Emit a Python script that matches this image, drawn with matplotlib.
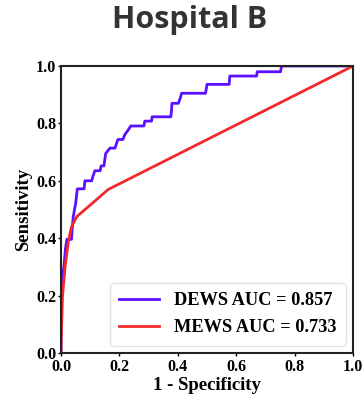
import matplotlib
matplotlib.use("Agg")
import matplotlib.pyplot as plt

# DEWS ROC curve (step-like)
dews_fpr = [0.0, 0.0, 0.005, 0.01, 0.015, 0.02, 0.036, 0.038, 0.042, 0.046, 0.05, 0.056,
            0.079, 0.082, 0.105, 0.11, 0.116, 0.134, 0.137, 0.147, 0.153, 0.168, 0.185,
            0.19, 0.195, 0.212, 0.218, 0.23, 0.239, 0.284, 0.287, 0.31, 0.312, 0.376,
            0.378, 0.38, 0.402, 0.408, 0.413, 0.495, 0.50, 0.576, 0.578, 0.670, 0.672,
            0.752, 0.755, 1.0]
dews_tpr = [0.0, 0.2, 0.27, 0.30, 0.36, 0.396, 0.396, 0.428, 0.475, 0.498, 0.52, 0.572,
            0.572, 0.60, 0.60, 0.618, 0.635, 0.635, 0.652, 0.652, 0.695, 0.714, 0.714,
            0.73, 0.744, 0.744, 0.76, 0.777, 0.791, 0.791, 0.808, 0.808, 0.823, 0.823,
            0.841, 0.870, 0.870, 0.887, 0.905, 0.905, 0.936, 0.936, 0.965, 0.965, 0.98,
            0.98, 1.0, 1.0]

# MEWS ROC curve
mews_fpr = [0.0, 0.0, 0.005, 0.014, 0.025, 0.036, 0.054, 0.162, 1.0]
mews_tpr = [0.0, 0.02, 0.196, 0.30, 0.388, 0.44, 0.475, 0.570, 1.0]

labels = ["DEWS AUC = 0.857", "MEWS AUC = 0.733"]
ticks = [0.0, 0.2, 0.4, 0.6, 0.8, 1.0]
tick_labels = ["0.0", "0.2", "0.4", "0.6", "0.8", "1.0"]

serif = ["Liberation Serif", "DejaVu Serif"]

fig = plt.figure(figsize=(3.62, 3.96), dpi=100)
ax = fig.add_axes([61 / 362, 1 - 353 / 396, 292 / 362, 287 / 396])

ax.plot(dews_fpr, dews_tpr, color="#5a0fff", lw=2.0, label=labels[0])
ax.plot(mews_fpr, mews_tpr, color="#f02a2a", lw=2.0, label=labels[1])

ax.set_xlim(0, 1)
ax.set_ylim(0, 1)
ax.set_xticks(ticks)
ax.set_yticks(ticks)
ax.set_xticklabels(tick_labels, family=serif, fontweight="bold", fontsize=11.5)
ax.set_yticklabels(tick_labels, family=serif, fontweight="bold", fontsize=11.5)
ax.tick_params(axis="x", length=2, width=1, pad=2.5)
ax.tick_params(axis="y", length=2, width=1, pad=1.5)
for s in ax.spines.values():
    s.set_linewidth(1.5)
    s.set_color("#222222")

ax.set_xlabel("1 - Specificity", family=serif, fontweight="bold", fontsize=13.5, labelpad=1)
ax.set_ylabel("Sensitivity", family=serif, fontweight="bold", fontsize=13.5, labelpad=3)

leg = ax.legend(loc="lower right", prop={"family": serif, "weight": "bold", "size": 13.2},
                handlelength=2.2, handletextpad=0.8, borderaxespad=0.4,
                borderpad=0.5, labelspacing=0.55, frameon=True, fancybox=True)
leg.get_frame().set_edgecolor("#dddddd")

fig.text(190 / 362, 1 - 20 / 396, "Hospital B", ha="center", va="center",
         family=["Open Sans", "DejaVu Sans"], fontweight="bold", fontsize=22, color="#333333")

fig.savefig("out.png", dpi=100)
